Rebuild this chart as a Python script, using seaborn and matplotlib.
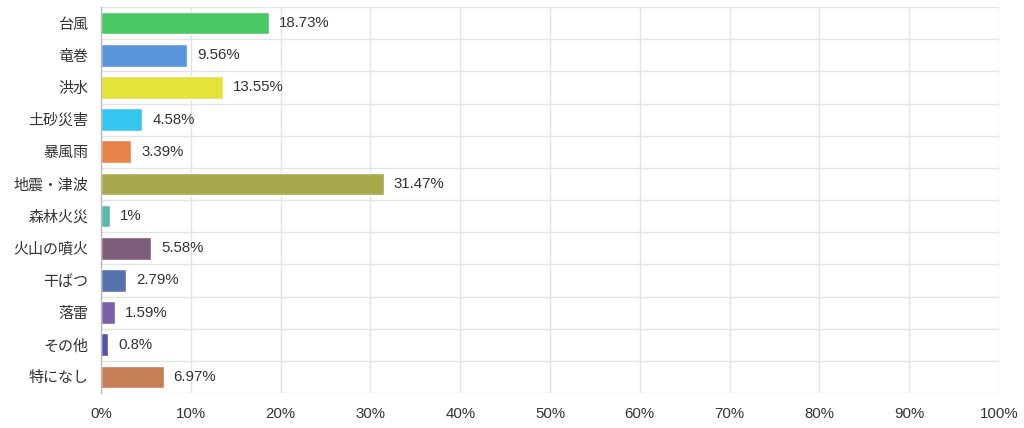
import matplotlib.pyplot as plt
import pandas as pd
import seaborn as sns
import numpy as np

categories = ['台風', '竜巻', '洪水', '土砂災害', '暴風雨', '地震・津波', '森林火災',
              '火山の噴火', '干ばつ', '落雷', 'その他', '特になし']
values = [18.73, 9.56, 13.55, 4.58, 3.39, 31.47, 1, 5.58, 2.79, 1.59, 0.8, 6.97]
labels = ['18.73%', '9.56%', '13.55%', '4.58%', '3.39%', '31.47%', '1%',
          '5.58%', '2.79%', '1.59%', '0.8%', '6.97%']
colors = ['#4cc766', '#5b96dc', '#e3e33a', '#36c7ee', '#e8834a', '#a8a84d',
          '#5bb8ae', '#7e5d7b', '#5673b0', '#7a61a8', '#5154a8', '#c67e56']
xticks = list(range(0, 101, 10))

df = pd.DataFrame({'category': categories, 'value': values})

sns.set_style('white')
plt.rcParams['font.family'] = ['Noto Sans CJK JP', 'DejaVu Sans']
num_font = ['Liberation Sans', 'DejaVu Sans']

fig = plt.figure(figsize=(10.24, 4.28), dpi=100)
ax = fig.add_axes([101 / 1024, 1 - 393 / 428, 898 / 1024, 386 / 428])

sns.barplot(data=df, x='value', y='category', hue='category', palette=colors,
            legend=False, width=0.7, ax=ax, orient='h', saturation=1)

ax.set_xlim(0, 100)
ax.set_ylim(len(categories) - 0.5, -0.5)
ax.set_xticks(xticks)
ax.set_xticklabels([f'{t}%' for t in xticks], fontsize=10.8, color='#333333',
                   family=num_font)
ax.set_yticks(range(len(categories)))
ax.set_yticklabels(categories, fontsize=10.8, color='#333333')
ax.set_yticks(np.arange(-0.5, len(categories), 1), minor=True)

ax.tick_params(axis='y', which='major', length=0, pad=9)
ax.tick_params(axis='y', which='minor', length=11, color='#e4e4e4', width=1)
ax.tick_params(axis='x', which='major', length=7, color='#e4e4e4', width=1, pad=3)

ax.grid(axis='x', which='major', color='#e4e4e4', linewidth=1)
ax.grid(axis='y', which='minor', color='#e4e4e4', linewidth=1)
ax.set_axisbelow(True)

for s in ['top', 'right', 'bottom']:
    ax.spines[s].set_visible(False)
ax.spines['left'].set_color('#bbbbbb')
ax.spines['left'].set_linewidth(1)

for i, (v, lab) in enumerate(zip(values, labels)):
    ax.annotate(lab, (v, i), xytext=(10, 0), textcoords='offset pixels',
                va='center', ha='left', fontsize=10.8, color='#333333',
                family=num_font)

ax.set_xlabel('')
ax.set_ylabel('')

fig.savefig('out.png', dpi=100)
